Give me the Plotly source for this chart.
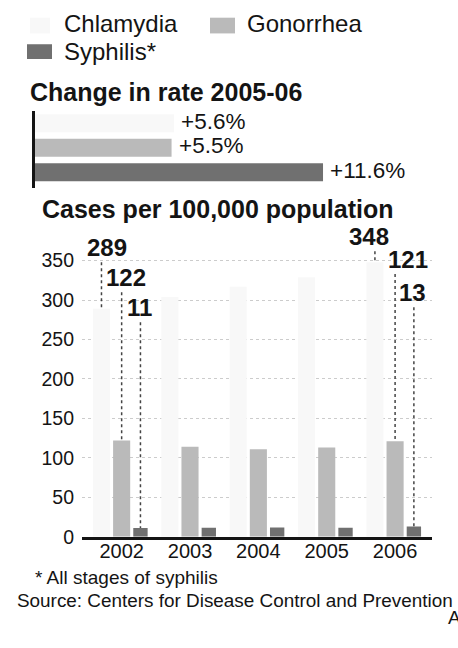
import plotly.graph_objects as go

W, H = 458, 648


def px(x):
    return x / W


def py(y):
    return 1 - y / H


# ---------------- data ----------------
years = ["2002", "2003", "2004", "2005", "2006"]
diseases = ["Chlamydia", "Gonorrhea", "Syphilis*"]
chlamydia = [289, 304, 317, 329, 348]
gonorrhea = [122, 114, 111, 113, 121]
syphilis = [11, 11.5, 11.7, 11.3, 13]
change_2005_06 = [5.6, 5.5, 11.6]
change_labels = ["+5.6%", "+5.5%", "+11.6%"]
y_ticks = [0, 50, 100, 150, 200, 250, 300, 350]

# ---------------- styles ----------------
colors = ["#f8f8f8", "#bababa", "#707070"]
REG = "Liberation Sans, Arial, sans-serif"
INK = "#141414"

bar_offset = [-0.42, -0.125, 0.17]
bar_width = [0.25, 0.25, 0.21]

fig = go.Figure()

# lower chart: cases per 100,000
for name, vals, col, off, wd in zip(diseases, [chlamydia, gonorrhea, syphilis], colors, bar_offset, bar_width):
    fig.add_trace(go.Bar(
        x=years, y=vals, name=name, marker=dict(color=col, line=dict(width=0)),
        offset=off, width=wd, xaxis="x", yaxis="y", showlegend=False,
        hovertemplate="%{x}: %{y}<extra>" + name + "</extra>",
    ))

# upper chart: change in rate
fig.add_trace(go.Bar(
    y=diseases, x=change_2005_06, orientation="h", xaxis="x2", yaxis="y2",
    marker=dict(color=colors, line=dict(width=0)), width=0.74, showlegend=False,
    hovertemplate="%{y}: %{x}%<extra></extra>",
))

annotations = []
shapes = []

# change labels
for d, v, lab in zip(diseases, change_2005_06, change_labels):
    annotations.append(dict(
        x=v, y=d, xref="x2", yref="y2", text=lab, showarrow=False,
        xanchor="left", yanchor="middle", xshift=6, yshift=2, borderpad=0,
        font=dict(family=REG, size=22.5, color=INK),
    ))

# value labels + leader lines for 2002 and 2006
series = [chlamydia, gonorrhea, syphilis]
label_idx = [0, 0, 0, 4, 4, 4]
label_series = [0, 1, 2, 0, 1, 2]
label_dx = [-0.21, 0.07, 0.26, -0.38, 0.19, 0.26]
label_y = [366, 328, 290, 380, 351, 309]
for i, s, dx, ly in zip(label_idx, label_series, label_dx, label_y):
    v = series[s][i]
    annotations.append(dict(
        x=i + dx, y=ly, xref="x", yref="y", text="<b>" + str(round(v)) + "</b>",
        showarrow=False, xanchor="center", yanchor="middle",
        font=dict(family=REG, size=24, color=INK),
    ))
    cx = i + bar_offset[s] + bar_width[s] / 2
    shapes.append(dict(
        type="line", xref="x", yref="y", x0=cx, x1=cx, y0=ly - 18, y1=v,
        line=dict(color="#444", width=1.5, dash="dot"),
    ))

# legend
legend_items = [
    (diseases[0], 30, 50, 18, 34, 62, 24),
    (diseases[1], 210, 235, 18, 34, 245, 24),
    (diseases[2], 27, 52, 45, 60, 62, 52),
]
for (name, x0, x1, y0, y1, tx, ty), col in zip(legend_items, colors):
    shapes.append(dict(type="rect", xref="paper", yref="paper",
                       x0=px(x0), x1=px(x1), y0=py(y1), y1=py(y0),
                       fillcolor=col, line=dict(width=0)))
    annotations.append(dict(x=px(tx), y=py(ty), xref="paper", yref="paper", text=name,
                            showarrow=False, xanchor="left", yanchor="middle",
                            font=dict(family=REG, size=24, color=INK)))

texts = [
    ("<b>Change in rate 2005-06</b>", 28, 94, 25),
    ("<b>Cases per 100,000 population</b>", 40, 213, 25),
    ("* All stages of syphilis", 33, 587, 19),
    ("Source: Centers for Disease Control and Prevention", 15, 611, 18.9),
    ("AP", 446, 628, 19),
]
for t, x, y, sz in texts:
    annotations.append(dict(x=px(x), y=py(y), xref="paper", yref="paper", text=t,
                            showarrow=False, xanchor="left", yanchor="middle",
                            font=dict(family=REG, size=sz, color=INK)))

fig.update_layout(
    width=W, height=H, margin=dict(l=0, r=0, t=0, b=0),
    paper_bgcolor="white", plot_bgcolor="white",
    barmode="overlay", showlegend=False,
    font=dict(family=REG, color=INK),
    xaxis=dict(domain=[px(82), px(432)], type="category", range=[-0.58, 4.54],
               showline=True, linecolor=INK, linewidth=3, ticks="",
               ticklabelstandoff=-6,
               showgrid=False, tickfont=dict(size=20, family=REG, color=INK), fixedrange=True),
    yaxis=dict(domain=[py(546), py(233)], range=[0, 390], tickvals=y_ticks,
               showgrid=True, gridcolor="#cccccc", griddash="dot", gridwidth=1,
               zeroline=False, showline=False, ticks="", ticklabelstandoff=7,
               tickfont=dict(size=19.5, family=REG, color=INK), fixedrange=True),
    xaxis2=dict(domain=[px(35), px(435)], range=[0, 16.11], visible=False,
                anchor="y2", fixedrange=True),
    yaxis2=dict(domain=[py(191), py(113)], anchor="x2", autorange="reversed",
                showline=True, linecolor=INK, linewidth=2.5, ticks="",
                showticklabels=False, showgrid=False, zeroline=False, fixedrange=True),
    annotations=annotations,
    shapes=shapes,
)

fig.write_html("out.html")
